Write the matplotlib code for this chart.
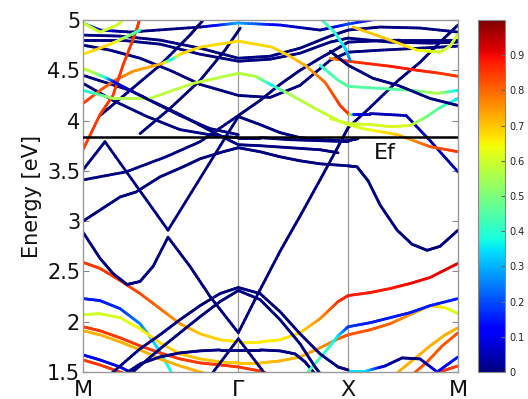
import numpy as np
import matplotlib
matplotlib.use("Agg")
import matplotlib.pyplot as plt
from matplotlib.collections import LineCollection
from matplotlib.cm import ScalarMappable
from matplotlib.colors import Normalize

# high-symmetry path (M - Gamma - X - M), path-length units
kpoint_pos = [0.0, 1.414, 2.414, 3.414]
kpoint_labels = ["M", "\u0393", "X", "M"]
fermi_level = 3.84
energy_ticks = [1.5, 2, 2.5, 3, 3.5, 4, 4.5, 5]
cbar_ticks = [0, 0.1, 0.2, 0.3, 0.4, 0.5, 0.6, 0.7, 0.8, 0.9]

# each band: list of (k, energy [eV], weight)
band_c1 = [(0, 2.59, .85), (0.155, 2.53, .85), (0.337, 2.41, .85), (0.519, 2.28, .83), (0.701, 2.13, .8),
           (0.883, 1.98, .75), (1.066, 1.88, .7), (1.248, 1.82, .68), (1.414, 1.80, .66), (1.612, 1.80, .66),
           (1.794, 1.82, .66), (1.976, 1.89, .68), (2.158, 2.03, .75), (2.322, 2.20, .85), (2.414, 2.26, .88),
           (2.614, 2.29, .88), (2.796, 2.33, .88), (2.978, 2.38, .9), (3.160, 2.44, .9), (3.414, 2.58, .92)]
band_c2 = [(0, 2.23, .15), (0.155, 2.21, .15), (0.337, 2.13, .17), (0.519, 1.98, .25), (0.610, 1.85, .32),
           (0.701, 1.70, .35), (0.792, 1.52, .38), (0.883, 1.35, .4)]
band_c3 = [(0, 2.07, .6), (0.155, 2.08, .6), (0.337, 2.04, .62), (0.519, 1.93, .65), (0.701, 1.79, .68),
           (0.883, 1.68, .7), (1.066, 1.63, .7), (1.248, 1.60, .7), (1.414, 1.59, .7), (1.612, 1.59, .7),
           (1.794, 1.61, .72), (1.976, 1.65, .72), (2.158, 1.74, .75), (2.322, 1.83, .8), (2.414, 1.87, .82),
           (2.614, 1.92, .82), (2.796, 1.98, .8), (2.978, 2.07, .75), (3.160, 2.16, .7), (3.297, 2.14, .65),
           (3.414, 2.08, .6)]
band_c4 = [(0, 1.95, .85), (0.155, 1.91, .85), (0.337, 1.84, .85), (0.519, 1.76, .85), (0.701, 1.69, .85),
           (0.883, 1.63, .85), (1.066, 1.59, .85), (1.248, 1.57, .85), (1.414, 1.55, .85), (1.612, 1.51, .85),
           (1.794, 1.44, .85)]
band_c5 = [(0, 1.91, .72), (0.155, 1.87, .72), (0.337, 1.80, .72), (0.519, 1.72, .72), (0.701, 1.63, .72),
           (0.883, 1.56, .72), (1.066, 1.50, .72), (1.248, 1.44, .72)]
band_c6 = [(0, 1.67, .1), (0.155, 1.62, .1), (0.337, 1.55, .1), (0.519, 1.45, .1)]
band_c6b = [(0, 1.62, .85), (0.155, 1.57, .85), (0.337, 1.50, .85), (0.474, 1.45, .85)]
band_c7 = [(0.337, 1.45, 0), (0.519, 1.58, 0), (0.701, 1.65, 0), (0.883, 1.69, 0), (1.066, 1.71, 0),
           (1.248, 1.72, 0), (1.414, 1.72, 0), (1.612, 1.72, 0), (1.794, 1.71, 0), (1.931, 1.68, 0),
           (2.022, 1.60, 0), (2.113, 1.48, 0)]
band_c8 = [(1.976, 1.40, .45), (2.086, 1.55, .45), (2.204, 1.70, .42), (2.322, 1.86, .35), (2.414, 1.95, .18),
           (2.614, 1.99, .15), (2.796, 2.04, .15), (2.978, 2.09, .15), (3.160, 2.16, .15), (3.414, 2.23, .15)]
band_c9 = [(2.869, 1.50, .72), (3.005, 1.62, .72), (3.160, 1.76, .72), (3.297, 1.87, .72), (3.414, 1.94, .72)]
band_c10 = [(3.005, 1.48, .82), (3.133, 1.60, .82), (3.270, 1.76, .82), (3.414, 1.89, .82)]
band_c11 = [(3.200, 1.48, .85), (3.300, 1.52, .85), (3.414, 1.56, .85)]
band_hump = [(2.414, 1.51, .35), (2.577, 1.51, .35), (2.750, 1.56, .05), (2.905, 1.64, 0), (3.069, 1.63, 0),
             (3.224, 1.50, .1), (3.414, 1.65, .15)]
band_d1 = [(0.200, 1.43, 0), (0.519, 1.73, 0), (0.701, 1.87, 0), (0.883, 2.02, 0), (1.066, 2.16, 0),
           (1.248, 2.28, 0), (1.414, 2.34, 0), (1.612, 2.28, 0), (1.794, 2.10, 0), (1.976, 1.88, 0),
           (2.158, 1.68, 0), (2.322, 1.55, 0), (2.414, 1.52, 0)]
band_d2 = [(0.401, 1.45, 0), (0.474, 1.52, 0), (0.701, 1.73, 0), (0.883, 1.89, 0), (1.066, 2.05, 0),
           (1.248, 2.20, 0), (1.414, 2.31, 0), (1.612, 2.22, 0), (1.794, 2.02, 0), (1.976, 1.78, 0),
           (2.113, 1.55, 0), (2.204, 1.42, 0)]
band_lam = [(1.130, 1.42, 0), (1.414, 1.83, 0), (1.700, 1.42, 0)]
band_b1 = [(0, 2.89, 0), (0.155, 2.63, 0), (0.273, 2.48, 0), (0.401, 2.37, 0), (0.519, 2.40, 0),
           (0.638, 2.55, 0), (0.774, 2.84, 0), (0.974, 2.55, 0), (1.157, 2.25, 0), (1.414, 1.89, 0),
           (1.594, 2.28, 0), (1.794, 2.70, 0), (1.976, 3.05, 0), (2.158, 3.41, 0), (2.322, 3.74, 0),
           (2.414, 3.93, 0), (2.614, 4.13, 0), (2.860, 4.39, 0), (3.069, 4.58, 0), (3.251, 4.78, 0),
           (3.414, 4.95, 0)]
band_u1 = [(0, 3.00, 0), (0.155, 3.11, 0), (0.337, 3.24, 0), (0.483, 3.29, 0), (0.701, 3.44, 0),
           (0.911, 3.54, 0), (1.066, 3.62, 0), (1.275, 3.69, 0), (1.414, 3.73, 0), (1.612, 3.69, 0),
           (1.794, 3.64, 0), (1.976, 3.60, 0), (2.158, 3.57, 0), (2.414, 3.55, 0), (2.495, 3.54, 0),
           (2.596, 3.40, 0), (2.705, 3.16, 0), (2.860, 2.91, 0), (2.996, 2.77, 0), (3.133, 2.71, 0),
           (3.251, 2.75, 0), (3.414, 2.91, 0)]
band_u2 = [(0, 3.41, 0), (0.392, 3.49, 0), (0.756, 3.64, 0), (1.066, 3.79, 0), (1.414, 4.05, 0),
           (1.612, 4.20, 0), (1.794, 4.36, 0), (1.976, 4.50, 0), (2.158, 4.62, 0), (2.322, 4.72, 0),
           (2.414, 4.78, 0), (2.614, 4.79, 0), (2.887, 4.80, 0), (3.160, 4.80, 0), (3.414, 4.80, 0)]
band_u3 = [(0, 3.51, 0), (0.200, 3.79, 0), (0.774, 2.91, 0), (1.414, 4.04, 0), (1.612, 3.96, 0),
           (1.794, 3.88, 0), (1.976, 3.83, 0), (2.158, 3.81, 0), (2.414, 3.80, 0), (2.505, 3.82, 0)]
band_u5 = [(0, 4.37, 0), (0.273, 4.20, 0), (0.583, 4.04, 0), (0.883, 3.91, 0), (1.202, 3.85, 0),
           (1.414, 3.83, 0), (1.612, 3.83, 0), (1.885, 3.81, 0), (2.158, 3.80, 0), (2.414, 3.79, 0)]
band_u6 = [(0, 4.45, 0), (0.428, 4.30, 0), (0.883, 4.06, 0), (1.157, 3.90, 0), (1.414, 3.76, 0),
           (1.612, 3.75, 0), (1.885, 3.73, 0), (2.158, 3.71, 0), (2.322, 3.68, 0)]
band_t1 = [(0, 4.85, 0), (0.337, 4.84, 0), (0.701, 4.80, 0), (1.066, 4.72, 0), (1.414, 4.62, 0),
           (1.703, 4.64, 0), (1.976, 4.72, 0), (2.250, 4.84, 0), (2.414, 4.90, 0), (2.705, 4.93, 0),
           (3.069, 4.92, 0), (3.414, 4.88, 0)]
band_t2 = [(0, 4.80, 0), (0.337, 4.80, 0), (0.701, 4.76, 0), (1.066, 4.66, 0), (1.414, 4.59, 0),
           (1.703, 4.61, 0), (1.976, 4.67, 0), (2.250, 4.78, 0), (2.414, 4.82, 0), (2.796, 4.78, 0),
           (3.160, 4.77, 0), (3.414, 4.78, 0)]
band_t3 = [(0, 4.75, 0), (0.246, 4.70, 0), (0.519, 4.62, 0), (0.792, 4.50, 0), (1.066, 4.36, 0),
           (1.414, 4.25, 0), (1.703, 4.23, 0), (1.976, 4.35, 0), (2.250, 4.60, 0), (2.414, 4.68, 0),
           (2.705, 4.70, 0), (3.069, 4.72, 0), (3.414, 4.74, 0)]
band_t4 = [(0, 4.97, .35), (0.155, 4.90, .1), (0.428, 4.88, 0), (1.066, 4.93, 0), (1.414, 4.97, .3),
           (1.794, 4.95, .1), (2.158, 4.90, 0), (2.414, 4.96, .2), (2.887, 5.05, 0)]
band_t7 = [(0.155, 4.05, 0), (0.428, 4.30, 0), (0.701, 4.55, 0), (0.974, 4.85, 0), (1.111, 5.02, 0)]
band_t8 = [(0.519, 3.87, 0), (0.792, 4.12, 0), (1.066, 4.40, 0), (1.293, 4.70, 0), (1.432, 4.92, 0)]
band_r1 = [(0, 4.17, .85), (0.155, 4.30, .82), (0.291, 4.40, .8), (0.456, 4.49, .75), (0.729, 4.57, .72),
           (0.811, 4.61, .35), (0.883, 4.66, .68), (1.066, 4.73, .68), (1.414, 4.79, .68), (1.721, 4.73, .68),
           (1.867, 4.65, .7), (2.022, 4.55, .72), (2.204, 4.38, .8), (2.341, 4.15, .85), (2.414, 4.07, .85),
           (2.470, 4.07, .1), (2.614, 4.07, .05), (2.942, 4.05, .05), (3.160, 3.80, .05), (3.414, 3.49, .05)]
band_rs = [(0, 3.71, .85), (0.155, 4.06, .85), (0.273, 4.25, .85), (0.364, 4.55, .85), (0.446, 4.78, .85),
           (0.492, 4.92, .85), (0.519, 5.02, .85)]
band_y1 = [(0, 4.30, .35), (0.273, 4.22, .55), (0.610, 4.22, .58), (1.002, 4.37, .58), (1.414, 4.47, .57),
           (1.569, 4.44, .57), (1.721, 4.35, .35), (1.867, 4.27, .55), (2.113, 4.12, .58), (2.341, 3.99, .6),
           (2.414, 3.96, .6), (2.550, 3.92, .62), (2.860, 3.86, .7), (3.160, 3.74, .82), (3.414, 3.69, .85)]
band_y2 = [(2.250, 4.02, .6), (2.414, 3.97, .6), (2.614, 3.96, .6), (2.796, 3.94, .62), (2.978, 3.95, .6),
           (3.115, 4.03, .5), (3.251, 4.13, .45), (3.414, 4.22, .35)]
band_r2 = [(2.250, 4.62, .75), (2.414, 4.59, .85), (2.796, 4.54, .88), (3.042, 4.50, .88), (3.251, 4.47, .85),
           (3.414, 4.44, .85)]
band_g1 = [(2.158, 4.55, .4), (2.322, 4.40, .45), (2.414, 4.34, .45), (2.705, 4.32, .45), (3.005, 4.30, .47),
           (3.224, 4.27, .58), (3.414, 4.30, .35)]
band_o2 = [(2.459, 4.93, .7), (2.796, 4.80, .7), (3.042, 4.70, .65), (3.251, 4.68, .6), (3.342, 4.74, .6),
           (3.414, 4.86, .6)]
band_x2 = [(2.250, 4.69, 0), (2.414, 4.55, 0), (2.641, 4.42, 0), (2.869, 4.35, 0), (3.160, 4.22, 0),
           (3.414, 4.15, 0)]
band_ctop = [(2.158, 5.02, .45), (2.295, 4.87, .4), (2.386, 4.72, .35), (2.432, 4.60, .25)]
band_ym1 = [(0, 4.97, .6), (0.155, 4.88, .6), (0.310, 4.95, .6), (0.383, 5.02, .6)]
band_ym2 = [(0, 4.66, .65), (0.155, 4.72, .7), (0.291, 4.78, .65), (0.428, 4.85, .5), (0.519, 4.90, .4)]
band_ym3 = [(0, 4.52, .6), (0.109, 4.47, .55), (0.200, 4.43, .4), (0.291, 4.38, .1), (0.519, 4.25, 0),
            (0.883, 4.05, 0), (1.157, 3.92, 0), (1.414, 3.86, 0)]

bands = [band_c1, band_c2, band_c3, band_c4, band_c5, band_c6, band_c6b, band_c7, band_c8, band_c9,
         band_c10, band_c11, band_hump, band_d1, band_d2, band_lam, band_b1, band_u1, band_u2, band_u3,
         band_u5, band_u6, band_t1, band_t2, band_t3, band_t4, band_t7, band_t8, band_r1, band_rs, band_y1,
         band_y2, band_r2, band_g1, band_o2, band_x2, band_ctop, band_ym1, band_ym2, band_ym3]

W, H = 528, 399
fig = plt.figure(figsize=(W / 100, H / 100), dpi=100)
ax = fig.add_axes([83 / W, 27 / H, 375 / W, 352 / H])
cmap = plt.get_cmap("jet")
norm = Normalize(0, 1)

def draw_band(ax, band):
    arr = np.array(band, dtype=float)
    k, e, w = arr[:, 0], arr[:, 1], arr[:, 2]
    # subdivide each straight segment so colour can vary along the band
    ks, es, ws = [], [], []
    for i in range(len(k) - 1):
        t = np.linspace(0, 1, 12, endpoint=False)
        ks.append(k[i] + (k[i + 1] - k[i]) * t)
        es.append(e[i] + (e[i + 1] - e[i]) * t)
        ws.append(w[i] + (w[i + 1] - w[i]) * t)
    ks.append([k[-1]]); es.append([e[-1]]); ws.append([w[-1]])
    ks = np.concatenate(ks); es = np.concatenate(es); ws = np.concatenate(ws)
    pts = np.column_stack([ks, es]).reshape(-1, 1, 2)
    segs = np.concatenate([pts[:-1], pts[1:]], axis=1)
    cw = 0.5 * (ws[:-1] + ws[1:])
    lc = LineCollection(segs, colors=cmap(norm(cw)), linewidths=2.0, capstyle="round", joinstyle="round")
    ax.add_collection(lc)

for kp in kpoint_pos[1:-1]:
    ax.axvline(kp, color="#9a9a9a", lw=0.9, zorder=0)

for b in bands:
    draw_band(ax, b)

ax.axhline(fermi_level, color="black", lw=1.8, zorder=5)
ax.text(2.75, 3.68, "Ef", fontsize=16, ha="center", va="center", color="#111111", zorder=6)

ax.set_xlim(kpoint_pos[0], kpoint_pos[-1])
ax.set_ylim(1.5, 5)
ax.set_xticks(kpoint_pos)
ax.set_xticklabels(kpoint_labels, fontsize=16, color="#111111")
ax.tick_params(axis="x", length=0, pad=6)
ax.set_yticks(energy_ticks)
ax.set_yticklabels([f"{v:g}" for v in energy_ticks], fontsize=15, color="#111111")
ax.tick_params(axis="y", direction="in", length=4, color="#888888", right=True, pad=2)
ax.set_ylabel("Energy [eV]", fontsize=15, color="#111111", labelpad=4)
for s in ax.spines.values():
    s.set_color("#999999")
    s.set_linewidth(1.0)

cax = fig.add_axes([478 / W, 27 / H, 27 / W, 352 / H])
sm = ScalarMappable(norm=norm, cmap=cmap)
cb = fig.colorbar(sm, cax=cax, ticks=cbar_ticks)
cb.ax.set_yticklabels([f"{v:g}" for v in cbar_ticks])
cb.ax.tick_params(labelsize=7, length=3, direction="in", color="#666666", labelcolor="#222222", pad=3)
cb.outline.set_edgecolor("#888888")
cb.outline.set_linewidth(0.8)

fig.savefig("out.png", dpi=100)
